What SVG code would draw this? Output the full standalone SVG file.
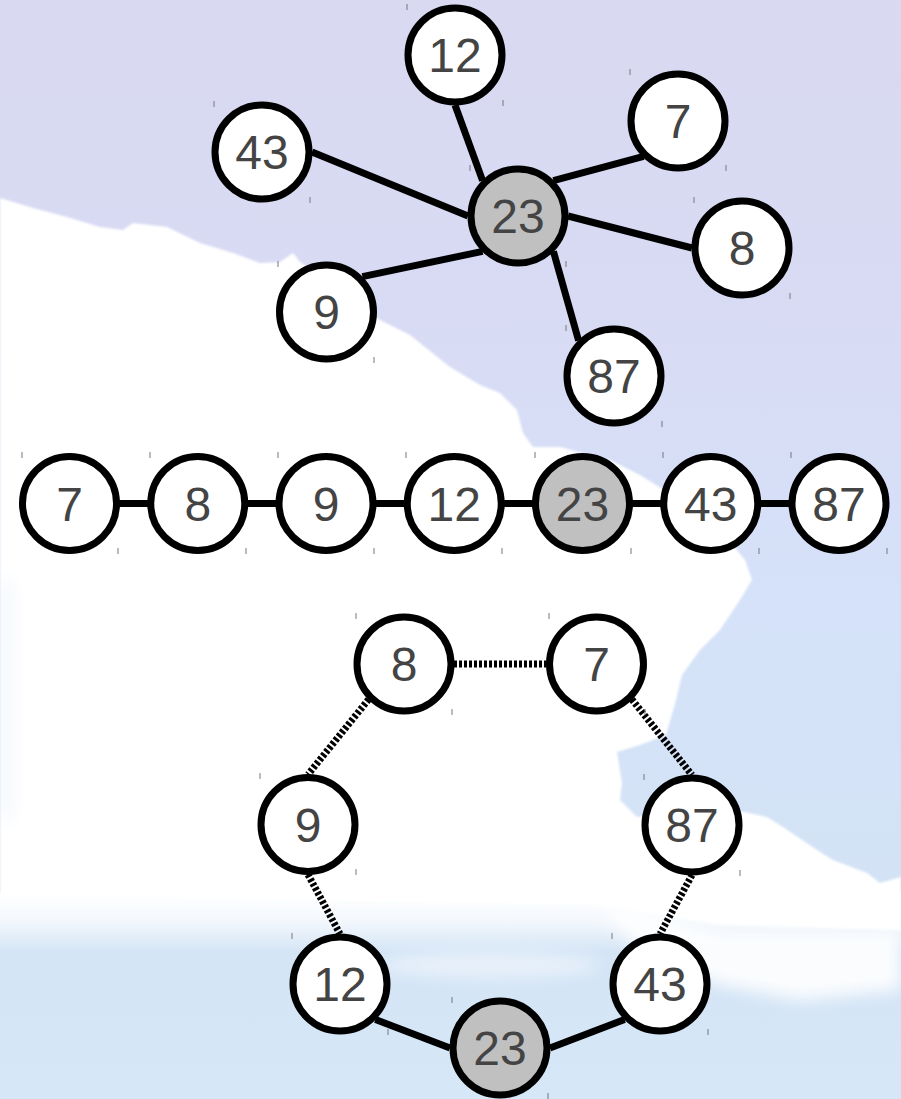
<svg xmlns="http://www.w3.org/2000/svg" width="901" height="1099" viewBox="0 0 901 1099">
<defs>
<linearGradient id="sky" x1="0" y1="0" x2="0" y2="1">
<stop offset="0" stop-color="#d9d9f1"/>
<stop offset="0.3" stop-color="#d8dbf4"/>
<stop offset="0.55" stop-color="#d5e2f9"/>
<stop offset="0.8" stop-color="#d3e3f5"/>
<stop offset="1" stop-color="#d6e7f7"/>
</linearGradient>
<linearGradient id="fade" x1="0" y1="0" x2="0" y2="1">
<stop offset="0" stop-color="#fff" stop-opacity="1"/>
<stop offset="0.45" stop-color="#fff" stop-opacity="0.75"/>
<stop offset="1" stop-color="#fff" stop-opacity="0"/>
</linearGradient>
<linearGradient id="leftTint" x1="0" y1="0" x2="1" y2="0">
<stop offset="0" stop-color="#d6e6f8" stop-opacity="0.4"/>
<stop offset="1" stop-color="#d6e6f8" stop-opacity="0"/>
</linearGradient>
<filter id="soft" x="-5%" y="-5%" width="110%" height="110%"><feGaussianBlur stdDeviation="1.2"/></filter>
<filter id="haze" x="-20%" y="-50%" width="140%" height="200%"><feGaussianBlur stdDeviation="8"/></filter>
<style>
.n circle{stroke:#000;stroke-width:7;fill:#fff}
.n.c circle{fill:#c0c0c0}
.n text{font-family:"Liberation Sans",Arial,sans-serif;font-size:48px;fill:#444;text-anchor:middle}
.n line{stroke:#777;stroke-width:1}
#connectors line{stroke:#000;stroke-width:7}
#connectors line.d{stroke-dasharray:3 2}
</style>
</defs>
<g id="background">
<rect width="901" height="1099" fill="url(#sky)"/>
<path filter="url(#soft)" fill="#fff" d="M0,198 L33,208 L67,217 L100,227 L123,230 L133,223 L167,227 L200,243 L233,253 L260,263 L280,262 L293,253 L300,262 L380,320 L410,335 L450,367 L480,385 L500,393 L517,410 L523,433 L533,447 L560,447 L610,460 L640,475 L680,500 L720,530 L745,560 L752,580 L740,600 L720,630 L700,650 L682,675 L676,700 L666,735 L640,745 L617,752 L622,783 L620,800 L637,817 L700,808 L745,812 L767,817 L783,827 L817,850 L833,860 L867,873 L880,883 L901,877 L901,930 L720,925 L600,905 L0,895 Z"/>
<rect x="0" y="893" width="901" height="60" fill="url(#fade)"/>
<path filter="url(#haze)" fill="#fff" opacity="0.9" d="M600,905 L720,930 L901,930 L901,990 L800,1000 L720,985 L640,950 Z"/>
<ellipse cx="490" cy="965" rx="110" ry="12" fill="#fff" opacity="0.5" filter="url(#haze)"/>
<rect x="0" y="580" width="20" height="240" fill="url(#leftTint)" filter="url(#haze)"/>
</g>
<g id="connectors">
<line x1="482.6" y1="180.6" x2="455" y2="105"/>
<line x1="553.4" y1="180.6" x2="643.6" y2="156.4"/>
<line x1="468" y1="216" x2="312" y2="152"/>
<line x1="568" y1="216" x2="692" y2="248"/>
<line x1="482.6" y1="251.4" x2="362.4" y2="276.6"/>
<line x1="553.4" y1="251.4" x2="578.6" y2="340.6"/>
<line x1="69.5" y1="503.5" x2="839" y2="503.5"/>
<line class="d" x1="454" y1="664" x2="546.5" y2="664"/>
<line class="d" x1="368.6" y1="699.4" x2="308" y2="774.5"/>
<line class="d" x1="631.9" y1="699.4" x2="692" y2="775"/>
<line class="d" x1="308" y1="874.5" x2="340" y2="934"/>
<line class="d" x1="692" y1="875" x2="660" y2="934"/>
<line x1="375.4" y1="1019.4" x2="450" y2="1048"/>
<line x1="550" y1="1048" x2="624.6" y2="1019.4"/>
</g>
<g id="star-12" class="n"><circle cx="455" cy="55" r="47"/><text x="455" y="72">12</text><line x1="407" y1="4" x2="407" y2="10"/><line x1="503" y1="100" x2="503" y2="106"/></g>
<g id="star-7" class="n"><circle cx="678" cy="121" r="47"/><text x="678" y="138">7</text><line x1="630" y1="69" x2="630" y2="75"/><line x1="726" y1="165" x2="726" y2="171"/></g>
<g id="star-43" class="n"><circle cx="262" cy="152" r="47"/><text x="262" y="169">43</text><line x1="214" y1="101" x2="214" y2="107"/><line x1="310" y1="197" x2="310" y2="203"/></g>
<g id="star-23" class="n c"><circle cx="518" cy="216" r="47"/><text x="518" y="233">23</text><line x1="470" y1="165" x2="470" y2="171"/><line x1="566" y1="261" x2="566" y2="267"/></g>
<g id="star-8" class="n"><circle cx="742" cy="248" r="47"/><text x="742" y="265">8</text><line x1="694" y1="197" x2="694" y2="203"/><line x1="790" y1="293" x2="790" y2="299"/></g>
<g id="star-9" class="n"><circle cx="326.5" cy="312" r="47"/><text x="326.5" y="329">9</text><line x1="278" y1="261" x2="278" y2="267"/><line x1="374" y1="357" x2="374" y2="363"/></g>
<g id="star-87" class="n"><circle cx="614" cy="376" r="47"/><text x="614" y="393">87</text><line x1="566" y1="325" x2="566" y2="331"/><line x1="662" y1="421" x2="662" y2="427"/></g>
<g id="line-7" class="n"><circle cx="69.5" cy="503.5" r="47"/><text x="69.5" y="520.5">7</text><line x1="22" y1="452" x2="22" y2="458"/><line x1="118" y1="548" x2="118" y2="554"/></g>
<g id="line-8" class="n"><circle cx="197.75" cy="503.5" r="47"/><text x="197.75" y="520.5">8</text><line x1="150" y1="452" x2="150" y2="458"/><line x1="246" y1="548" x2="246" y2="554"/></g>
<g id="line-9" class="n"><circle cx="326" cy="503.5" r="47"/><text x="326" y="520.5">9</text><line x1="278" y1="452" x2="278" y2="458"/><line x1="374" y1="548" x2="374" y2="554"/></g>
<g id="line-12" class="n"><circle cx="454.25" cy="503.5" r="47"/><text x="454.25" y="520.5">12</text><line x1="406" y1="452" x2="406" y2="458"/><line x1="502" y1="548" x2="502" y2="554"/></g>
<g id="line-23" class="n c"><circle cx="582.5" cy="503.5" r="47"/><text x="582.5" y="520.5">23</text><line x1="535" y1="452" x2="535" y2="458"/><line x1="631" y1="548" x2="631" y2="554"/></g>
<g id="line-43" class="n"><circle cx="710.75" cy="503.5" r="47"/><text x="710.75" y="520.5">43</text><line x1="663" y1="452" x2="663" y2="458"/><line x1="759" y1="548" x2="759" y2="554"/></g>
<g id="line-87" class="n"><circle cx="839" cy="503.5" r="47"/><text x="839" y="520.5">87</text><line x1="791" y1="452" x2="791" y2="458"/><line x1="887" y1="548" x2="887" y2="554"/></g>
<g id="ring-8" class="n"><circle cx="404" cy="664" r="47"/><text x="404" y="681">8</text><line x1="356" y1="613" x2="356" y2="619"/><line x1="452" y1="709" x2="452" y2="715"/></g>
<g id="ring-7" class="n"><circle cx="596.5" cy="664" r="47"/><text x="596.5" y="681">7</text><line x1="549" y1="613" x2="549" y2="619"/><line x1="645" y1="709" x2="645" y2="715"/></g>
<g id="ring-9" class="n"><circle cx="308" cy="824.5" r="47"/><text x="308" y="841.5">9</text><line x1="260" y1="773" x2="260" y2="779"/><line x1="356" y1="869" x2="356" y2="875"/></g>
<g id="ring-87" class="n"><circle cx="692" cy="825" r="47"/><text x="692" y="842">87</text><line x1="644" y1="774" x2="644" y2="780"/><line x1="740" y1="870" x2="740" y2="876"/></g>
<g id="ring-12" class="n"><circle cx="340" cy="984" r="47"/><text x="340" y="1001">12</text><line x1="292" y1="933" x2="292" y2="939"/><line x1="388" y1="1029" x2="388" y2="1035"/></g>
<g id="ring-43" class="n"><circle cx="660" cy="984" r="47"/><text x="660" y="1001">43</text><line x1="612" y1="933" x2="612" y2="939"/><line x1="708" y1="1029" x2="708" y2="1035"/></g>
<g id="ring-23" class="n c"><circle cx="500" cy="1048" r="47"/><text x="500" y="1065">23</text><line x1="452" y1="997" x2="452" y2="1003"/><line x1="548" y1="1093" x2="548" y2="1099"/></g>
</svg>
